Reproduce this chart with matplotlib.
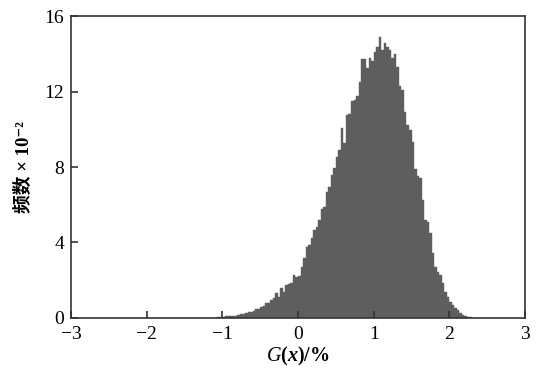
import numpy as np
import matplotlib
matplotlib.use("Agg")
import matplotlib.pyplot as plt

plt.rcParams['font.family'] = ['Liberation Serif', 'Noto Sans CJK SC', 'DejaVu Sans']
plt.rcParams['mathtext.fontset'] = 'custom'
plt.rcParams['mathtext.rm'] = 'Liberation Serif'
plt.rcParams['mathtext.it'] = 'Liberation Serif:italic'
plt.rcParams['mathtext.bf'] = 'Liberation Serif:bold'
plt.rcParams['mathtext.bfit'] = 'Liberation Serif:italic:bold'

# histogram of G(x), bins of width 1/30 starting at -1.1 (counts x 10^-2)
bin_start = -1.1
bin_width = 1 / 30
counts = [0.0, 0.03, 0.05, 0.04, 0.08, 0.1, 0.08, 0.12, 0.1, 0.15,
          0.19, 0.2, 0.25, 0.3, 0.33, 0.39, 0.46, 0.5, 0.56, 0.64,
          0.78, 0.81, 0.95, 1.04, 1.31, 1.13, 1.57, 1.39, 1.75, 1.8,
          1.84, 2.28, 2.19, 2.25, 2.72, 3.16, 3.74, 3.87, 4.22, 4.66,
          4.84, 5.19, 5.76, 5.9, 6.69, 6.96, 7.58, 7.93, 8.55, 8.9,
          10.05, 9.25, 10.75, 10.8, 11.5, 11.55, 11.76, 12.52, 13.7, 13.72,
          13.23, 13.79, 13.6, 14.08, 14.37, 14.9, 14.2, 14.55, 14.35, 14.2,
          13.8, 14.0, 13.3, 12.3, 12.1, 10.9, 10.2, 9.96, 9.3, 7.9,
          7.5, 7.4, 6.25, 5.19, 5.1, 4.49, 3.43, 2.72, 2.45, 2.28,
          1.84, 1.39, 1.13, 0.86, 0.69, 0.51, 0.4, 0.25, 0.16, 0.1,
          0.07, 0.04, 0.02]

xticks = [-3, -2, -1, 0, 1, 2, 3]
yticks = [0, 4, 8, 12, 16]

lefts = bin_start + bin_width * np.arange(len(counts))

fig = plt.figure(figsize=(5.36, 3.73), dpi=100)
ax = fig.add_axes([0.1325, 0.1475, 0.847, 0.8095])
ax.bar(lefts, counts, width=bin_width, align='edge', color='#5e5e5e',
       edgecolor='#5e5e5e', linewidth=0.3)

ax.set_xlim(-3, 3)
ax.set_ylim(0, 16)
ax.set_xticks(xticks)
ax.set_yticks(yticks)
ax.tick_params(direction='in', length=5, width=1.2, labelsize=14,
               color='#333333', top=False, right=False)
ax.tick_params(axis='x', pad=6)
ax.tick_params(axis='y', pad=5)
for s in ax.spines.values():
    s.set_linewidth(1.2)
    s.set_color('#333333')

ax.set_xlabel(r'$G\mathbf{(}\boldsymbol{x}\mathbf{)/\%}$', fontsize=14.5, labelpad=1)
ax.set_ylabel('频数 × 10⁻²', fontsize=13.5, fontweight='bold', labelpad=8)

fig.savefig('out.png', dpi=100)
